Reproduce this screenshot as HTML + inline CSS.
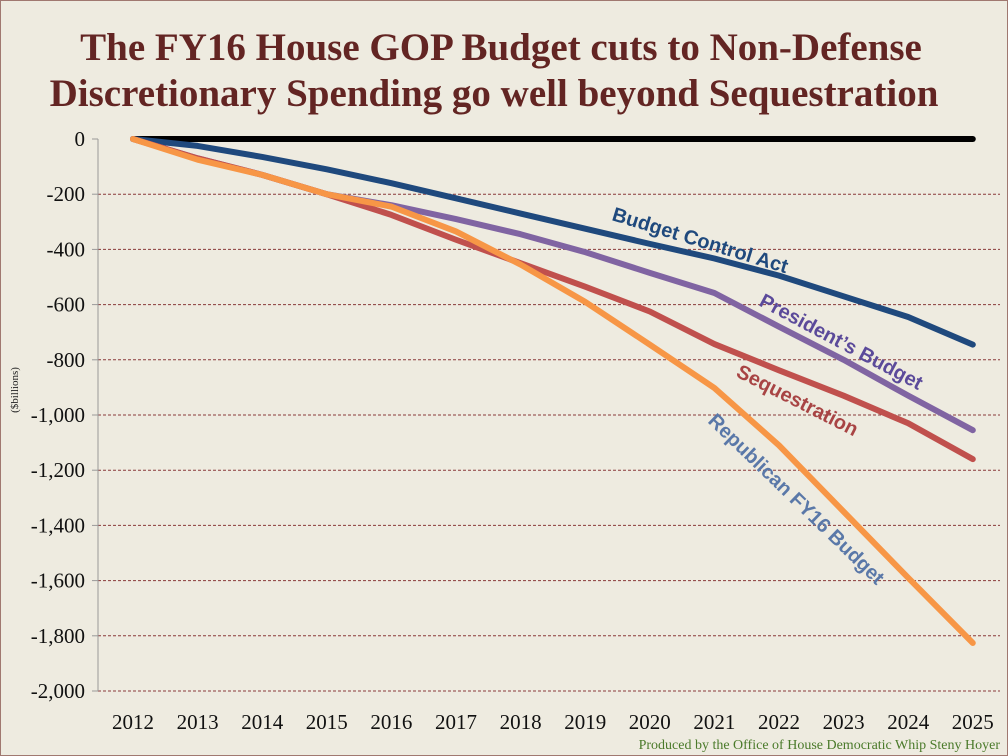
<!DOCTYPE html>
<html><head><meta charset="utf-8"><style>
body{margin:0;background:#eeebe0}
svg{display:block}
</style></head><body>
<svg id="chart" width="1008" height="756" xmlns="http://www.w3.org/2000/svg">
<rect x="0.5" y="0.5" width="1007" height="755" fill="#eeebe0" stroke="#a07870" stroke-width="1"/>
<text x="501" y="60" text-anchor="middle" font-family="Liberation Serif, serif" font-weight="bold" font-size="39" fill="#632523">The FY16 House GOP Budget cuts to Non-Defense</text>
<text x="494" y="106" text-anchor="middle" font-family="Liberation Serif, serif" font-weight="bold" font-size="39" fill="#632523">Discretionary Spending go well beyond Sequestration</text>
<text transform="translate(18,390) rotate(-90)" text-anchor="middle" font-family="Liberation Serif, serif" font-size="11" fill="#222">($billions)</text>
<text x="1000" y="749" text-anchor="end" font-family="Liberation Serif, serif" font-size="14" fill="#4a7a2a">Produced by the Office of House Democratic Whip Steny Hoyer</text>
<g id="grid"></g><g id="axes"></g><g id="series"></g>
<text transform="translate(611,220) rotate(17)" font-family="Liberation Sans, sans-serif" font-weight="bold" font-size="20" fill="#1f497d">Budget Control Act</text>
<text transform="translate(758,305) rotate(28)" font-family="Liberation Sans, sans-serif" font-weight="bold" font-size="20" fill="#5b4a9a">President’s Budget</text>
<text transform="translate(735,376) rotate(27)" font-family="Liberation Sans, sans-serif" font-weight="bold" font-size="20" fill="#a84444">Sequestration</text>
<text transform="translate(707,422) rotate(44)" font-family="Liberation Sans, sans-serif" font-weight="bold" font-size="20" fill="#5a78a8">Republican FY16 Budget</text>
</svg>
<script>
const years=[2012,2013,2014,2015,2016,2017,2018,2019,2020,2021,2022,2023,2024,2025];
const yTicks=[0,-200,-400,-600,-800,-1000,-1200,-1400,-1600,-1800,-2000];
const yTickLabels=["0","-200","-400","-600","-800","-1,000","-1,200","-1,400","-1,600","-1,800","-2,000"];
const baseline=[0,0,0,0,0,0,0,0,0,0,0,0,0,0];
const bca=[0,-25,-65,-110,-160,-215,-270,-325,-380,-433,-495,-570,-645,-745];
const presidents=[0,-70,-130,-200,-240,-290,-345,-410,-485,-558,-680,-800,-930,-1055];
const sequestration=[0,-70,-130,-200,-275,-365,-450,-535,-625,-743,-838,-930,-1030,-1160];
const gop=[0,-75,-130,-200,-245,-335,-455,-590,-745,-902,-1110,-1350,-1590,-1826];
const NS="http://www.w3.org/2000/svg";
const x=yr=>133+(yr-2012)*64.6;
const y=v=>139+(-v)/2000*552;
const grid=document.getElementById('grid'),axes=document.getElementById('axes'),ser=document.getElementById('series');
function mk(tag,attrs,parent){const e=document.createElementNS(NS,tag);for(const k in attrs)e.setAttribute(k,attrs[k]);parent.appendChild(e);return e;}
yTicks.forEach((t,i)=>{
  if(t!==0){const g=mk('line',{x1:98,x2:1000,y1:y(t),y2:y(t),stroke:'#8a3a3a','stroke-width':1,'stroke-dasharray':'3,2'},grid);
  
  }
  const tk=mk('line',{x1:92,x2:98,y1:y(t),y2:y(t),stroke:'#999'},axes);
  
  
  const l=mk('text',{x:85,y:y(t)+7,'text-anchor':'end','font-family':'Liberation Serif, serif','font-size':21,fill:'#111'},axes);
  l.textContent=yTickLabels[i];
  
  
});
const ax=mk('line',{x1:98,x2:98,y1:139,y2:691,stroke:'#999','stroke-width':1},axes);


years.forEach(yr=>{
  const l=mk('text',{x:x(yr),y:729,'text-anchor':'middle','font-family':'Liberation Serif, serif','font-size':21,fill:'#111'},axes);
  l.textContent=yr;
  
  
});
function line(vals,color,name){
  const p=mk('polyline',{points:vals.map((v,i)=>x(years[i])+','+y(v)).join(' '),fill:'none',stroke:color,'stroke-width':6,'stroke-linejoin':'round','stroke-linecap':'round'},ser);
  
  
}
line(baseline,'#000','baseline-zero');
line(bca,'#1f497d','line-budget-control-act');
line(presidents,'#8064a2','line-presidents-budget');
line(sequestration,'#c0504d','line-sequestration');
line(gop,'#f79646','line-republican-fy16-budget');
</script>
</body></html>
